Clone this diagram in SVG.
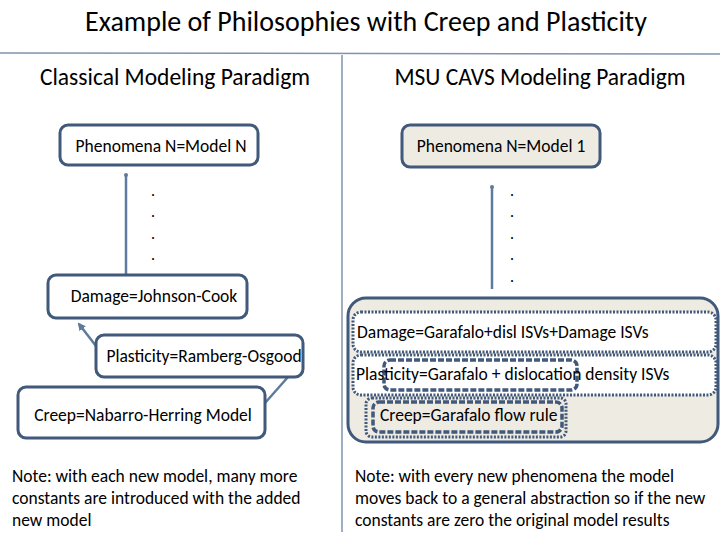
<svg xmlns="http://www.w3.org/2000/svg" width="720" height="540" viewBox="0 0 720 540">
<style>
text{font-family:Carlito,Calibri,"Liberation Sans",sans-serif;fill:#000}
.box{fill:#fff;stroke:#41597A;stroke-width:3}
.ln{stroke:#5E7A9C;stroke-width:2.5;fill:none}
.dot{fill:none;stroke:#41597A;stroke-width:3;stroke-dasharray:2 1.5}
.dash{fill:none;stroke:#41597A;stroke-width:3.5;stroke-dasharray:6 2}
.t{font-size:17.5px}
.n{font-size:17.5px}
</style>
<defs><marker id="ah" markerWidth="8" markerHeight="8" refX="6" refY="4" orient="auto" markerUnits="userSpaceOnUse"><path d="M0,0L8,4L0,8z" fill="#5E7A9C"/></marker></defs>
<rect width="720" height="540" fill="#fff"/>
<text x="366" y="31" font-size="28" text-anchor="middle">Example of Philosophies with Creep and Plasticity</text>
<line x1="0" y1="53" x2="720" y2="54" stroke="#7F93AD" stroke-width="1.5"/>
<line x1="342" y1="55" x2="342" y2="532" stroke="#7F93AD" stroke-width="1.5"/>
<text x="175" y="85" font-size="23.5" text-anchor="middle">Classical Modeling Paradigm</text>
<text x="540" y="85" font-size="23.5" text-anchor="middle">MSU CAVS Modeling Paradigm</text>
<g id="connectors">
<line class="ln" x1="126" y1="175" x2="126" y2="275"/>
<circle cx="126" cy="175" r="2" fill="#5E7A9C"/>
<line class="ln" x1="492" y1="187" x2="492" y2="289"/>
<circle cx="492" cy="187" r="2" fill="#5E7A9C"/>
<line class="ln" x1="96" y1="346" x2="79" y2="324" marker-end="url(#ah)"/>
<line class="ln" x1="288" y1="377" x2="265" y2="403"/>
</g>
<g id="dots1" font-size="16"><text x="151" y="196">.</text><text x="151" y="217">.</text><text x="151" y="239">.</text><text x="151" y="260">.</text></g>
<g id="dots2" font-size="16"><text x="510" y="196">.</text><text x="510" y="217">.</text><text x="510" y="239">.</text><text x="510" y="260">.</text><text x="510" y="282">.</text></g>
<g id="phenN"><rect class="box" x="60" y="125" width="198" height="40" rx="8"/><text class="t" x="161" y="152" text-anchor="middle">Phenomena N=Model N</text></g>
<g id="damage1"><rect class="box" x="48" y="275" width="199" height="43" rx="8"/><text class="t" x="154" y="302" text-anchor="middle">Damage=Johnson-Cook</text></g>
<g id="plast1"><rect class="box" x="96" y="335" width="207" height="42" rx="8"/><text class="t" x="204" y="362" text-anchor="middle">Plasticity=Ramberg-Osgood</text></g>
<g id="creep1"><rect class="box" x="18" y="387" width="247" height="51" rx="8"/><text class="t" x="143" y="421" text-anchor="middle">Creep=Nabarro-Herring Model</text></g>
<g id="phen1"><rect class="box" x="402" y="125" width="198" height="42" rx="8" style="fill:#EEEBE3"/><text class="t" x="501" y="152" text-anchor="middle">Phenomena N=Model 1</text></g>
<g id="container"><rect x="348" y="298" width="370" height="144" rx="18" fill="#EEEBE3" stroke="#41597A" stroke-width="3"/></g>
<g id="damage2"><rect class="dot" x="353" y="312" width="363" height="40" rx="8" style="fill:#fff"/><text class="t" x="357" y="338">Damage=Garafalo+disl ISVs+Damage ISVs</text></g>
<g id="plast2"><rect class="dot" x="353" y="355" width="363" height="40" rx="8" style="fill:#fff"/><rect class="dash" x="384" y="360" width="193" height="30" rx="6"/><text class="t" x="356" y="380">Plasticity=Garafalo + dislocation density ISVs</text></g>
<g id="creep2"><rect class="dot" x="366" y="398" width="200" height="39" rx="6"/><rect class="dash" x="373" y="402" width="189" height="30" rx="6"/><text class="t" x="380" y="421">Creep=Garafalo flow rule</text></g>
<g id="note1" class="n"><text x="12" y="482">Note: with each new model, many more</text><text x="12" y="504">constants are introduced with the added</text><text x="12" y="526">new model</text></g>
<g id="note2" class="n"><text x="355" y="482">Note: with every new phenomena the model</text><text x="355" y="504">moves back to a general abstraction so if the new</text><text x="355" y="526">constants are zero the original model results</text></g>
</svg>
